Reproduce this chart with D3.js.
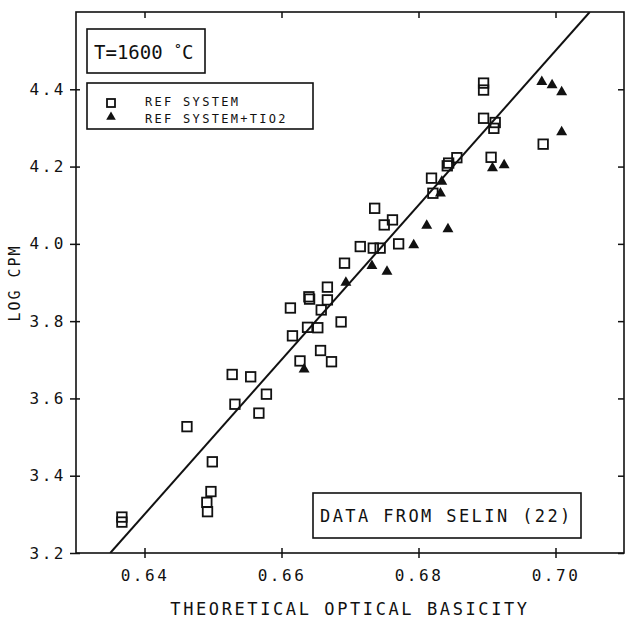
<!DOCTYPE html>
<html>
<head>
<meta charset="utf-8">
<script src="https://cdn.jsdelivr.net/npm/d3@7"></script>
<style>
  html, body { margin: 0; padding: 0; background: #fff; }
  svg { display: block; }
  text { font-family: "DejaVu Sans Mono", monospace; fill: #111; }
</style>
</head>
<body>
<svg id="chart" width="628" height="623"></svg>
<script>
// ---------- DATA ----------
const xTicks = [0.64, 0.66, 0.68, 0.70];
const yTicks = [3.2, 3.4, 3.6, 3.8, 4.0, 4.2, 4.4];
const xTickLabels = ["0.64", "0.66", "0.68", "0.70"];
const yTickLabels = ["3.2", "3.4", "3.6", "3.8", "4.0", "4.2", "4.4"];

// REF SYSTEM (open squares)
const refX = [0.6367, 0.6367, 0.6492, 0.6491, 0.6497, 0.6499, 0.6462, 0.6532, 0.6567, 0.6578,
              0.6736, 0.6715, 0.6734, 0.6744, 0.6692, 0.6667, 0.6640, 0.6641, 0.6667, 0.6613,
              0.6658, 0.6638, 0.6653, 0.6687, 0.6616, 0.6657, 0.6673, 0.6627, 0.6528, 0.6555,
              0.6895, 0.6912, 0.6910, 0.6982, 0.6856, 0.6844, 0.6842, 0.6906, 0.6819, 0.6821,
              0.6750, 0.6762, 0.6771, 0.6895, 0.6895];
const refY = [3.293, 3.280, 3.307, 3.331, 3.359, 3.436, 3.527, 3.585, 3.562, 3.611,
              4.092, 3.993, 3.989, 3.989, 3.950, 3.888, 3.863, 3.857, 3.855, 3.834,
              3.829, 3.784, 3.783, 3.798, 3.762, 3.724, 3.695, 3.697, 3.662, 3.656,
              4.325, 4.314, 4.299, 4.258, 4.223, 4.209, 4.202, 4.224, 4.170, 4.131,
              4.049, 4.062, 4.000, 4.416, 4.398];

// REF SYSTEM+TIO2 (filled triangles)
const tioX = [0.6694, 0.6732, 0.6633, 0.7009, 0.6908, 0.6925, 0.6834, 0.6832, 0.6812, 0.6843,
              0.6793, 0.6754, 0.6980, 0.6995, 0.7009];
const tioY = [3.900, 3.943, 3.675, 4.289, 4.196, 4.204, 4.161, 4.131, 4.047, 4.038,
              3.997, 3.928, 4.419, 4.411, 4.393];

// regression line end points
const fitX = [0.635, 0.705];
const fitY = [3.2, 4.6];

const legendLabels = ["REF SYSTEM", "REF SYSTEM+TIO2"];
const tempLabel = "T=1600";
const sourceLabel = "DATA FROM SELIN (22)";
const xTitle = "THEORETICAL OPTICAL BASICITY";
const yTitle = "LOG CPM";

// ---------- LAYOUT ----------
const W = 628, H = 623;
const M = {left: 76, right: 4, top: 12, bottom: 70};
const svg = d3.select("#chart");
svg.append("rect").attr("width", W).attr("height", H).attr("fill", "#fff");

const x = d3.scaleLinear().domain([0.63, 0.71]).range([M.left, W - M.right]);
const y = d3.scaleLinear().domain([3.2, 4.6]).range([H - M.bottom, M.top]);
const x0 = M.left, x1 = W - M.right, y0 = H - M.bottom, y1 = M.top;

const stroke = "#111";

// frame
svg.append("rect").attr("x", x0).attr("y", y1).attr("width", x1 - x0).attr("height", y0 - y1)
  .attr("fill", "none").attr("stroke", stroke).attr("stroke-width", 1.6);

// bottom axis (ticks crossing)
const gB = svg.append("g").attr("transform", `translate(0,${y0})`)
  .call(d3.axisBottom(x).tickValues(xTicks).tickSize(6).tickFormat((d, i) => xTickLabels[i]));
gB.select(".domain").remove();
gB.selectAll(".tick line").attr("y1", -5).attr("y2", 5).attr("stroke", stroke).attr("stroke-width", 1.5);
gB.selectAll(".tick text").attr("y", 17).attr("dy", "0.71em")
  .style("font-family", "'DejaVu Sans Mono', monospace").style("font-size", "16px")
  .style("letter-spacing", "2.5px").attr("fill", "#111");

// top axis (ticks inward)
const gT = svg.append("g").attr("transform", `translate(0,${y1})`)
  .call(d3.axisBottom(x).tickValues(xTicks).tickSize(6).tickFormat(""));
gT.select(".domain").remove();
gT.selectAll(".tick line").attr("stroke", stroke).attr("stroke-width", 1.5);

// left axis
const gL = svg.append("g").attr("transform", `translate(${x0},0)`)
  .call(d3.axisLeft(y).tickValues(yTicks).tickSize(6).tickFormat((d, i) => yTickLabels[i]));
gL.select(".domain").remove();
gL.selectAll(".tick line").attr("x1", -6).attr("x2", 4).attr("stroke", stroke).attr("stroke-width", 1.5);
gL.selectAll(".tick text").attr("x", -10)
  .style("font-family", "'DejaVu Sans Mono', monospace").style("font-size", "16px")
  .style("letter-spacing", "2.5px").attr("fill", "#111");

// right axis (ticks inward)
const gR = svg.append("g").attr("transform", `translate(${x1},0)`)
  .call(d3.axisLeft(y).tickValues(yTicks).tickSize(6).tickFormat(""));
gR.select(".domain").remove();
gR.selectAll(".tick line").attr("stroke", stroke).attr("stroke-width", 1.5);

// axis titles
svg.append("text").attr("x", (x0 + x1) / 2).attr("y", 615)
  .attr("text-anchor", "middle").style("font-size", "17px").style("letter-spacing", "2.6px")
  .text(xTitle);
svg.append("text").attr("transform", `translate(20,283) rotate(-90)`)
  .attr("text-anchor", "middle").style("font-size", "15px").style("letter-spacing", "2px")
  .text(yTitle);

// clip for plot contents
svg.append("clipPath").attr("id", "clip").append("rect")
  .attr("x", x0).attr("y", y1).attr("width", x1 - x0).attr("height", y0 - y1);
const plot = svg.append("g").attr("clip-path", "url(#clip)");

// regression line
plot.append("line")
  .attr("x1", x(fitX[0])).attr("y1", y(fitY[0]))
  .attr("x2", x(fitX[1])).attr("y2", y(fitY[1]))
  .attr("stroke", stroke).attr("stroke-width", 2);

// squares
const sq = 9.5;
plot.selectAll("rect.ref").data(refX.map((v, i) => [v, refY[i]])).join("rect")
  .attr("class", "ref")
  .attr("x", d => x(d[0]) - sq / 2).attr("y", d => y(d[1]) - sq / 2)
  .attr("width", sq).attr("height", sq)
  .attr("fill", "none").attr("stroke", stroke).attr("stroke-width", 1.8);

// triangles
const tri = d3.symbol().type(d3.symbolTriangle).size(52);
plot.selectAll("path.tio").data(tioX.map((v, i) => [v, tioY[i]])).join("path")
  .attr("class", "tio")
  .attr("transform", d => `translate(${x(d[0])},${y(d[1])})`)
  .attr("d", tri).attr("fill", stroke);

// temperature box
svg.append("rect").attr("x", 87).attr("y", 29).attr("width", 118).attr("height", 44)
  .attr("fill", "#fff").attr("stroke", stroke).attr("stroke-width", 1.6);
const tt = svg.append("text").attr("x", 94).attr("y", 59).style("font-size", "19px");
tt.append("tspan").text(tempLabel + " ");
tt.append("tspan").attr("dy", -6).style("font-size", "13px").style("font-weight", "bold").text("°");
tt.append("tspan").attr("dy", 6).text("C");

// legend box
svg.append("rect").attr("x", 87).attr("y", 83).attr("width", 226).attr("height", 46)
  .attr("fill", "#fff").attr("stroke", stroke).attr("stroke-width", 1.6);
svg.append("rect").attr("x", 107).attr("y", 99).attr("width", 8).attr("height", 8)
  .attr("fill", "none").attr("stroke", stroke).attr("stroke-width", 1.8);
svg.append("path").attr("transform", "translate(111,117)")
  .attr("d", d3.symbol().type(d3.symbolTriangle).size(40)).attr("fill", stroke);
legendLabels.forEach((t, i) => {
  svg.append("text").attr("x", 145).attr("y", 106 + i * 17)
    .style("font-size", "12px").style("letter-spacing", "2.3px").text(t);
});

// source box
svg.append("rect").attr("x", 313).attr("y", 493).attr("width", 268).attr("height", 45)
  .attr("fill", "#fff").attr("stroke", stroke).attr("stroke-width", 1.6);
svg.append("text").attr("x", 320).attr("y", 522)
  .style("font-size", "17px").style("letter-spacing", "2.4px").text(sourceLabel);
</script>
</body>
</html>
